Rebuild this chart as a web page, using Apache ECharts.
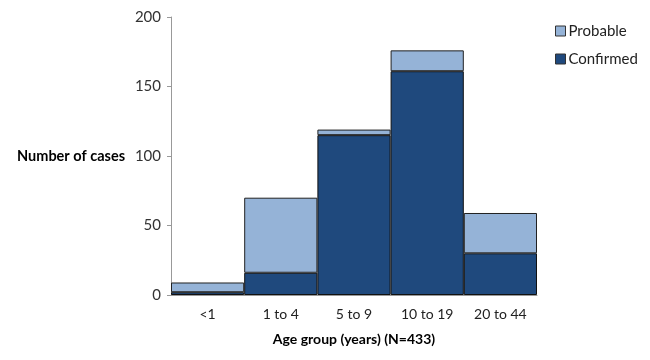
<!DOCTYPE html>
<html><head><meta charset="utf-8">
<script src="https://cdn.jsdelivr.net/npm/echarts@6/dist/echarts.min.js"></script>
<style>html,body{margin:0;padding:0;background:#fff}#c{width:650px;height:360px}</style>
</head><body><div id="c"></div>
<script>
const categories = ['<1', '1 to 4', '5 to 9', '10 to 19', '20 to 44'];
const confirmed = [2, 16, 115, 161, 30];
const probable = [7, 54, 4, 15, 29];
const yTicks = { min: 0, max: 200, interval: 50 };

const font = 'Lato, "Liberation Sans", sans-serif';
const chart = echarts.init(document.getElementById('c'));
chart.setOption({
  animation: false,
  textStyle: { fontFamily: font },
  grid: { left: 171, right: 113, top: 17, bottom: 65 },
  legend: {
    left: 550, top: 18, orient: 'vertical',
    itemWidth: 10, itemHeight: 10, itemGap: 12,
    icon: 'rect',
    itemStyle: { borderColor: '#333', borderWidth: 1 },
    textStyle: { fontSize: 15, lineHeight: 16, color: '#222', fontFamily: font, padding: [0, 0, 0, -2] },
    data: ['Probable', 'Confirmed']
  },
  xAxis: {
    type: 'category', data: categories,
    name: 'Age group (years) (N=433)', nameLocation: 'middle', nameGap: 37,
    nameTextStyle: { fontWeight: 'bold', fontSize: 14, color: '#000', fontFamily: font },
    axisLine: { lineStyle: { color: '#999' } },
    axisTick: { show: false },
    axisLabel: { fontSize: 14, color: '#222', margin: 12 }
  },
  yAxis: {
    type: 'value', min: yTicks.min, max: yTicks.max, interval: yTicks.interval,
    name: 'Number of cases', nameLocation: 'middle', nameRotate: 0, nameGap: 46,
    nameTextStyle: { fontWeight: 'bold', fontSize: 14.5, color: '#000', align: 'right', fontFamily: font },
    axisLine: { show: true, lineStyle: { color: '#999' } },
    axisTick: { show: true, length: 4, lineStyle: { color: '#999' } },
    splitLine: { show: false },
    axisLabel: { fontSize: 15, color: '#333', margin: 10 }
  },
  series: [
    { name: 'Confirmed', type: 'bar', stack: 'a', data: confirmed, barCategoryGap: '0%',
      itemStyle: { color: '#1F497D', borderColor: '#111', borderWidth: 1 } },
    { name: 'Probable', type: 'bar', stack: 'a', data: probable, barCategoryGap: '0%',
      itemStyle: { color: '#95B3D7', borderColor: '#222', borderWidth: 1 } }
  ]
});
</script></body></html>
